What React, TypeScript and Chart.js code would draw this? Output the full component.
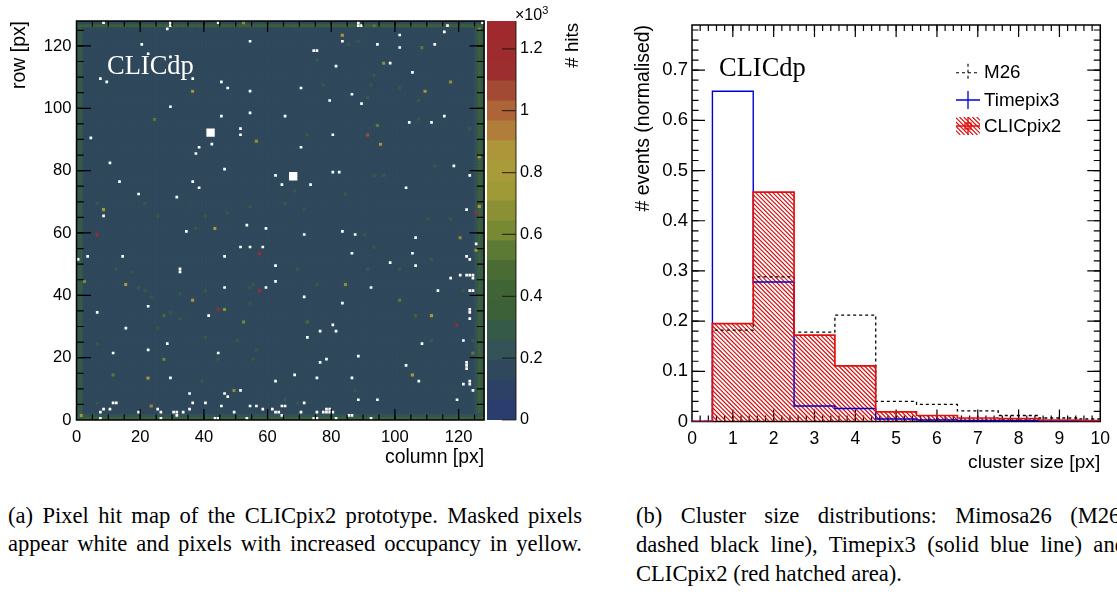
import React, { useEffect, useRef } from "react";
import { Chart, registerables } from "chart.js";
Chart.register(...registerables);

const SANS = '"Liberation Sans", Arial, sans-serif';
const SERIF = '"Liberation Serif", "Times New Roman", serif';

// ---- hit map (levels are in units of 10^3 hits) ----
const bandColors = ["#2b3c6e","#2d4166","#2f485b","#335358","#365a48","#3c6038","#3f6435","#4a6b33","#5c7a33","#778a33","#8a9033","#a09a36","#a99b39","#ad963a","#b07d3a","#ad6538","#a34a35","#9c2e30","#9e2b2e","#a0292d"];
const bandEdges = [0,0.0645,0.129,0.1935,0.258,0.3225,0.387,0.4515,0.516,0.5805,0.645,0.7095,0.774,0.8385,0.903,0.9675,1.032,1.0965,1.161,1.2255,1.29];
const interiorLevel = 0.15;
const edgeColumns = [0,1,125,126,127];
const edgeColumnLevels = [0.3,0.27,0.2,0.33,0.27];
const edgeRows = [0,1,126,127];
const edgeRowLevels = [0.33,0.25,0.33,0.17];

const maskedCols = [20,54,28,29,29,8,44,7,9,36,45,47,54,29,45,54,65,22,29,51,51,4,42,38,37,10,46,62,64,13,36,38,19,31,8,53,59,34,88,88,89,116,115,127,101,83,94,101,112,74,75,81,98,105,70,86,79,89,115,104,111,80,70,118,80,82,123,73,103,122,71,83,87,106,125,86,105,122,123,98,106,120,122,123,124,124,117,92,113,123,124,71,83,51,54,58,3,14,46,0,62,32,32,62,46,59,22,6,41,15,28,22,11,44,68,29,62,51,46,35,47,11,12,36,40,45,54,56,64,65,8,10,25,35,58,61,7,19,26,33,49,30,31,31,62,63,64,7,26,43,44,53,123,123,123,80,81,76,72,121,108,88,78,76,103,122,122,122,86,75,107,123,123,121,124,88,94,119,71,70,75,77,78,79,80,78,79,74,75,81,85,86,92];
const maskedRows = [120,121,125,126,127,127,127,109,108,109,108,106,105,100,97,98,97,117,116,93,91,90,88,87,85,82,80,78,75,76,76,74,72,71,65,62,61,60,127,126,126,126,124,127,123,121,120,119,120,118,118,113,114,111,106,104,102,101,97,95,95,91,87,81,79,79,78,75,74,67,59,60,59,58,56,53,53,52,51,50,49,46,46,46,46,45,45,42,41,41,41,39,37,55,55,55,52,52,52,51,49,47,48,44,42,42,36,34,33,29,24,22,21,21,14,13,12,9,8,8,7,5,5,5,5,4,4,4,4,4,3,3,3,3,3,3,2,2,2,2,2,2,2,1,2,2,1,0,0,0,0,0,34,35,32,30,28,28,26,25,24,20,19,18,17,16,17,18,13,13,12,11,12,11,9,6,6,6,5,2,2,2,2,2,2,3,3,0,0,0,1,1,0];

const hotCols = [36,24,56,8,6,43,52,83,96,108,117,109,94,91,95,126,93,126,126,125,120,125,84,101,57,2,15,57,36,44,46,52,27,27,11,22,49,23,1,111,119,105,124,72,106];
const hotRows = [105,96,89,67,59,61,127,123,114,119,108,105,94,91,88,84,126,125,68,66,58,54,43,38,53,44,43,41,38,35,35,31,33,19,14,13,9,4,1,33,30,14,21,31,33];
const hotLevels = [0.85,0.55,0.7,0.75,1.2,0.8,0.7,0.85,0.7,0.55,0.7,0.75,0.55,1.05,0.9,0.85,0.55,0.6,0.8,1.2,0.65,0.75,0.7,0.55,1.2,0.6,0.8,1.2,0.9,1.25,0.7,0.6,0.5,0.6,0.55,0.8,0.7,0.95,0.75,0.85,1.2,0.85,0.55,0.5,0.45];

// slightly raised cells picked out of the background by eye
const raisedCols = [85,75,77,92,101,88,93,91,107,107,72,123,71,68,65,84,90,93,110,117,111,69,91,101,75,121,96,93,112,37,40,47,54,21,6,25,12,17,19,21,23,32,40,54,55,54,29,32,25,40,50,56,55,44,6,39,65,6,111,87,69,124];
const raisedRows = [120,115,107,107,106,121,110,103,102,96,91,93,67,73,69,72,59,55,64,64,51,48,48,48,43,41,78,78,81,61,65,66,68,69,69,65,48,47,42,41,39,40,41,42,43,37,34,32,29,26,25,22,19,19,24,12,6,5,25,9,5,25];
const raisedLevel = 0.3;

const blockCols = [42.1,68.05];
const blockRows = [92.2,78.2];

const barTicks = [0,0.2,0.4,0.6,0.8,1,1.2];

// ---- cluster size histograms ----
const binEdges = [0.5,1.5,2.5,3.5,4.5,5.5,6.5,7.5,8.5,9.5,10];
const m26Values = [0.182,0.288,0.178,0.212,0.04,0.034,0.021,0.012,0.007,0.005];
const timepixValues = [0.658,0.278,0.031,0.026,0.005,0.003,0.002,0.002,0.001,0.001];
const clicpixValues = [0.195,0.457,0.172,0.111,0.019,0.012,0.007,0.006,0.003,0.002];
const seriesNames = ["M26","Timepix3","CLICpix2"];

const levelColor = (v: number) => {
  for (let i = bandColors.length - 1; i >= 0; i--) if (v >= bandEdges[i]) return bandColors[i];
  return bandColors[0];
};

const histPoints = (values: number[]) => {
  const pts: { x: number; y: number }[] = [{ x: 0, y: 0 }, { x: binEdges[0], y: 0 }];
  values.forEach((v, i) => {
    pts.push({ x: binEdges[i], y: v });
    pts.push({ x: binEdges[i + 1], y: v });
  });
  return pts;
};

const hatchIn = (ctx: CanvasRenderingContext2D, left: number, top: number, right: number, bottom: number) => {
  const h = bottom - top;
  ctx.strokeStyle = "#d61212";
  ctx.lineWidth = 1.15;
  ctx.beginPath();
  for (let x = left - h; x < right; x += 4.3) {
    ctx.moveTo(x, top);
    ctx.lineTo(x + h, bottom);
  }
  ctx.stroke();
};

const range = (from: number, to: number, step: number) => {
  const out: number[] = [];
  for (let k = 0; from + k * step <= to + 1e-9; k++) out.push(from + k * step);
  return out;
};

const framePlugin = (id: string, hook: string, o: { xMajor: number[]; xMinor: number[]; yMajor: number[]; yMinor: number[]; xLen: number; yLen: number }) => ({
  id,
  [hook](chart: any) {
    const { ctx, chartArea: a, scales } = chart;
    ctx.save();
    ctx.strokeStyle = "#000";
    ctx.lineWidth = 1.2;
    const draw = (vals: number[], kx: number, ky: number) => {
      ctx.beginPath();
      vals.forEach((v) => {
        if (kx) {
          const x = scales.x.getPixelForValue(v);
          ctx.moveTo(x, a.bottom); ctx.lineTo(x, a.bottom - kx);
          ctx.moveTo(x, a.top); ctx.lineTo(x, a.top + kx);
        } else {
          const y = scales.y.getPixelForValue(v);
          ctx.moveTo(a.left, y); ctx.lineTo(a.left + ky, y);
          ctx.moveTo(a.right, y); ctx.lineTo(a.right - ky, y);
        }
      });
      ctx.stroke();
    };
    draw(o.xMajor, o.xLen, 0);
    draw(o.xMinor, o.xLen / 2, 0);
    draw(o.yMajor, 0, o.yLen);
    draw(o.yMinor, 0, o.yLen / 2);
    ctx.lineWidth = 1.5;
    ctx.strokeRect(a.left, a.top, a.right - a.left, a.bottom - a.top);
    ctx.restore();
  },
});

const textPlugin = (id: string, text: string, x: number, y: number, color: string) => ({
  id,
  afterDraw(chart: any) {
    const { ctx } = chart;
    ctx.save();
    ctx.font = `26.5px ${SERIF}`;
    ctx.fillStyle = color;
    ctx.textBaseline = "alphabetic";
    ctx.fillText(text, x, y);
    ctx.restore();
  },
});

const hatchPlugin = {
  id: "clicpixHatch",
  beforeDatasetsDraw(chart: any) {
    const { ctx, chartArea: a, scales } = chart;
    ctx.save();
    ctx.beginPath();
    histPoints(clicpixValues).forEach((p, i) => {
      const x = scales.x.getPixelForValue(p.x);
      const y = scales.y.getPixelForValue(p.y);
      if (i === 0) ctx.moveTo(x, y); else ctx.lineTo(x, y);
    });
    ctx.lineTo(scales.x.getPixelForValue(10), scales.y.getPixelForValue(0));
    ctx.closePath();
    ctx.clip();
    hatchIn(ctx, a.left, a.top, a.right, a.bottom);
    ctx.restore();
  },
};

const legendPlugin = {
  id: "histLegend",
  afterDraw(chart: any) {
    const { ctx } = chart;
    const x0 = 331, x1 = 355, xm = 343, tx = 359;
    const ys = [72.7, 100, 126];
    ctx.save();
    ctx.font = `18.8px ${SANS}`;
    ctx.fillStyle = "#000";
    ctx.textBaseline = "middle";
    seriesNames.forEach((n, i) => ctx.fillText(n, tx, ys[i] + 0.5));
    // M26
    ctx.strokeStyle = "#000"; ctx.lineWidth = 1.1; ctx.setLineDash([3, 3]);
    ctx.beginPath(); ctx.moveTo(x0, ys[0]); ctx.lineTo(x1, ys[0]); ctx.moveTo(xm, ys[0] - 9); ctx.lineTo(xm, ys[0] + 9); ctx.stroke();
    ctx.setLineDash([]);
    // Timepix3
    ctx.strokeStyle = "#0000d0"; ctx.lineWidth = 1.3;
    ctx.beginPath(); ctx.moveTo(x0, ys[1]); ctx.lineTo(x1, ys[1]); ctx.moveTo(xm, ys[1] - 9); ctx.lineTo(xm, ys[1] + 9); ctx.stroke();
    // CLICpix2
    ctx.save();
    ctx.beginPath(); ctx.rect(x0, ys[2] - 9, x1 - x0, 18); ctx.clip();
    hatchIn(ctx, x0, ys[2] - 9, x1, ys[2] + 9);
    ctx.restore();
    ctx.strokeStyle = "#e01010"; ctx.lineWidth = 1.3;
    ctx.beginPath(); ctx.moveTo(x0, ys[2]); ctx.lineTo(x1, ys[2]); ctx.moveTo(xm, ys[2] - 9); ctx.lineTo(xm, ys[2] + 9); ctx.stroke();
    ctx.strokeRect(xm - 3, ys[2] - 3, 6, 6);
    ctx.restore();
  },
};

const base: any = {
  responsive: false,
  animation: false,
  events: [],
  plugins: { legend: { display: false }, tooltip: { enabled: false }, title: { display: false } },
};

function MapChart() {
  const ref = useRef<HTMLCanvasElement>(null);
  useEffect(() => {
    const grid = new Map<string, number>();
    for (let c = 0; c < 128; c++) for (let r = 0; r < 128; r++) {
      let lv = interiorLevel;
      const ci = edgeColumns.indexOf(c);
      if (ci >= 0) lv = edgeColumnLevels[ci];
      const ri = edgeRows.indexOf(r);
      if (ri >= 0) lv = edgeRowLevels[ri];
      grid.set(`${c},${r}`, lv);
    }
    raisedCols.forEach((c, i) => grid.set(`${c},${raisedRows[i]}`, raisedLevel));
    hotCols.forEach((c, i) => grid.set(`${c},${hotRows[i]}`, hotLevels[i]));
    const pts: { x: number; y: number }[] = [];
    const cols: string[] = [];
    const radii: number[] = [];
    grid.forEach((lv, key) => {
      const [c, r] = key.split(",").map(Number);
      pts.push({ x: c + 0.5, y: r + 0.5 });
      cols.push(levelColor(lv));
      radii.push(2.33);
    });
    maskedCols.forEach((c, i) => {
      pts.push({ x: c + 0.5, y: maskedRows[i] + 0.5 });
      cols.push("#ffffff");
      radii.push(1.9);
    });
    const chart = new Chart(ref.current!, {
      type: "scatter",
      data: {
        datasets: [
          { data: blockCols.map((c, i) => ({ x: c, y: blockRows[i] })), pointStyle: "rect", pointRadius: 5.9, pointBackgroundColor: "#fff", pointBorderWidth: 0, order: 0 } as any,
          { data: pts, pointStyle: "rect", pointRadius: radii, pointBackgroundColor: cols, pointBorderWidth: 0, order: 1 } as any,
        ],
      },
      options: {
        ...base,
        parsing: false,
        layout: { padding: { top: 21, right: 5, left: 0, bottom: 0 } },
        scales: {
          x: {
            type: "linear", min: 0, max: 128,
            grid: { display: false, drawTicks: false }, border: { display: false },
            ticks: { stepSize: 20, includeBounds: false, maxRotation: 0, padding: 7, color: "#000", font: { family: SANS, size: 16.6 } },
            title: { display: true, text: "column [px]", align: "end", color: "#000", font: { family: SANS, size: 19.4 }, padding: { top: 0, bottom: 11 } },
            afterFit: (s: any) => { s.height = 60; },
          },
          y: {
            type: "linear", min: 0, max: 128,
            grid: { display: false, drawTicks: false }, border: { display: false },
            ticks: { stepSize: 20, includeBounds: false, padding: 5, color: "#000", font: { family: SANS, size: 16.6 } },
            title: { display: true, text: "row [px]", align: "end", color: "#000", font: { family: SANS, size: 19.4 }, padding: { top: 8, bottom: 0 } },
            afterFit: (s: any) => { s.width = 76.5; },
          },
        },
      } as any,
      plugins: [
        {
          id: "mapBase",
          beforeDatasetsDraw(c: any) {
            const { ctx, chartArea: a } = c;
            ctx.save();
            ctx.fillStyle = levelColor(interiorLevel);
            ctx.fillRect(a.left, a.top, a.right - a.left, a.bottom - a.top);
            ctx.restore();
          },
        },
        framePlugin("mapFrame", "afterDatasetsDraw", { xMajor: range(20, 120, 20), xMinor: range(5, 125, 5), yMajor: range(20, 120, 20), yMinor: range(5, 125, 5), xLen: 11, yLen: 14.5 }),
        textPlugin("mapMark", "CLICdp", 107, 74, "#ffffff"),
      ] as any,
    });
    return () => chart.destroy();
  }, []);
  return <canvas ref={ref} width={490} height={480} style={{ position: "absolute", left: 0, top: 0 }} />;
}

function BarChart() {
  const ref = useRef<HTMLCanvasElement>(null);
  useEffect(() => {
    const chart = new Chart(ref.current!, {
      type: "bar",
      data: {
        labels: ["hits"],
        datasets: bandColors.map((color, i) => ({
          data: [[bandEdges[i], bandEdges[i + 1]]],
          backgroundColor: color,
          borderWidth: 0,
          grouped: false,
          barPercentage: 1,
          categoryPercentage: 1,
        })) as any,
      },
      options: {
        ...base,
        layout: { padding: { top: 21, bottom: 60, left: 0, right: 0 } },
        scales: {
          x: { display: false },
          y: {
            position: "right", min: 0, max: 1.29,
            grid: { display: false, drawTicks: false }, border: { display: false },
            afterBuildTicks: (s: any) => { s.ticks = barTicks.map((value) => ({ value })); },
            ticks: { padding: 4, color: "#000", font: { family: SANS, size: 16.2 }, callback: (v: any) => String(v) },
            afterFit: (s: any) => { s.width = 91; },
          },
        },
      } as any,
      plugins: [{
        id: "barTicks",
        afterDatasetsDraw(c: any) {
          const { ctx, chartArea: a, scales } = c;
          ctx.save();
          ctx.strokeStyle = "rgba(25,20,10,0.75)";
          ctx.lineWidth = 1.2;
          ctx.beginPath();
          barTicks.forEach((v) => {
            const y = scales.y.getPixelForValue(v);
            ctx.moveTo(a.right - 14, y); ctx.lineTo(a.right, y);
          });
          ctx.moveTo(a.right, a.top); ctx.lineTo(a.right, a.bottom);
          ctx.stroke();
          ctx.restore();
        },
      }] as any,
    });
    return () => chart.destroy();
  }, []);
  return <canvas ref={ref} width={120} height={480} style={{ position: "absolute", left: 487, top: 0 }} />;
}

function HistChart() {
  const ref = useRef<HTMLCanvasElement>(null);
  useEffect(() => {
    const line = { pointRadius: 0, tension: 0, borderJoinStyle: "miter", borderCapStyle: "butt", fill: false };
    const chart = new Chart(ref.current!, {
      type: "line",
      data: {
        datasets: [
          { ...line, label: seriesNames[0], data: histPoints(m26Values), borderColor: "#000", borderWidth: 1.3, borderDash: [3, 3], order: 3 },
          { ...line, label: seriesNames[1], data: histPoints(timepixValues), borderColor: "#0000d0", borderWidth: 1.4, order: 2 },
          { ...line, label: seriesNames[2], data: histPoints(clicpixValues), borderColor: "#e01010", borderWidth: 1.7, order: 1 },
        ] as any,
      },
      options: {
        ...base,
        layout: { padding: { top: 25, right: 15, left: 0, bottom: 0 } },
        scales: {
          x: {
            type: "linear", min: 0, max: 10,
            grid: { display: false, drawTicks: false }, border: { display: false },
            ticks: { stepSize: 1, maxRotation: 0, padding: 7, color: "#000", font: { family: SANS, size: 17.5 } },
            title: { display: true, text: "cluster size [px]", align: "end", color: "#000", font: { family: SANS, size: 19.2 }, padding: { top: 0, bottom: 6 } },
            afterFit: (s: any) => { s.height = 58.5; },
          },
          y: {
            type: "linear", min: 0, max: 0.79,
            grid: { display: false, drawTicks: false }, border: { display: false },
            ticks: { stepSize: 0.1, includeBounds: false, padding: 4, color: "#000", font: { family: SANS, size: 18.5 }, callback: (v: any) => String(Math.round(v * 10) / 10) },
            title: { display: true, text: "# events (normalised)", align: "end", color: "#000", font: { family: SANS, size: 19.4 }, padding: { top: 7, bottom: 0 } },
            afterFit: (s: any) => { s.width = 67; },
          },
        },
      } as any,
      plugins: [
        framePlugin("histFrame", "beforeDatasetsDraw", { xMajor: range(1, 9, 1), xMinor: range(0.2, 9.8, 0.2), yMajor: range(0.1, 0.7, 0.1), yMinor: range(0.02, 0.78, 0.02), xLen: 12, yLen: 13 }),
        hatchPlugin,
        textPlugin("histMark", "CLICdp", 94, 75.7, "#000000"),
        legendPlugin,
      ] as any,
    });
    return () => chart.destroy();
  }, []);
  return <canvas ref={ref} width={492} height={480} style={{ position: "absolute", left: 625, top: 0 }} />;
}

const caption: React.CSSProperties = {
  position: "absolute", width: 574, fontFamily: SERIF, fontSize: 22.6, lineHeight: "20px", whiteSpace: "nowrap", color: "#000",
  textAlign: "justify", textAlignLast: "justify",
};

export default function App() {
  return (
    <div style={{ position: "fixed", left: 0, top: 0, width: 1117, height: 598, overflow: "hidden", background: "#fff" }}>
      <MapChart />
      <BarChart />
      <HistChart />
      <div style={{ position: "absolute", left: 515, top: 5, fontFamily: SANS, fontSize: 16, color: "#000", lineHeight: "20px" }}>
        ×10<sup style={{ fontSize: 11, lineHeight: 0 }}>3</sup>
      </div>
      <div style={{ position: "absolute", left: 562, top: 23, fontFamily: SANS, fontSize: 18.7, color: "#000", lineHeight: "20px", writingMode: "vertical-rl", transform: "rotate(180deg)", whiteSpace: "nowrap" }}>
        # hits
      </div>
      <div style={{ ...caption, left: 8, top: 506 }}>(a) Pixel hit map of the CLICpix2 prototype. Masked pixels</div>
      <div style={{ ...caption, left: 8, top: 534 }}>appear white and pixels with increased occupancy in yellow.</div>
      <div style={{ ...caption, left: 636, top: 506, width: 490 }}>(b) Cluster size distributions: Mimosa26 (M26,</div>
      <div style={{ ...caption, left: 636, top: 535, width: 490 }}>dashed black line), Timepix3 (solid blue line) and</div>
      <div style={{ ...caption, left: 636, top: 564, textAlignLast: "left" }}>CLICpix2 (red hatched area).</div>
    </div>
  );
}
